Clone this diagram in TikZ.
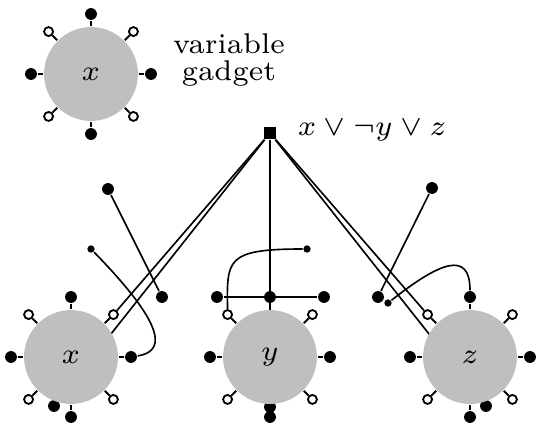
\documentclass[tikz,border=0pt]{standalone}
\usetikzlibrary{backgrounds}
\begin{document}
\begin{tikzpicture}[
  x=0.245pt, y=-0.245pt,
  font=\fontsize{7}{6.6}\selectfont,
  gadget/.style={circle, fill=black!25, minimum size=23pt, inner sep=0pt},
  bead/.style={circle, fill=black, minimum size=2.9pt, inner sep=0pt},
  ring/.style={circle, draw, fill=white, line width=0.45pt, minimum size=2.2pt, inner sep=0pt},
  speck/.style={circle, fill=black, minimum size=1.8pt, inner sep=0pt},
  clause/.style={rectangle, fill=black, minimum size=2.9pt, inner sep=0pt},
  wire/.style={line width=0.5pt}
  ]
  \useasboundingbox (0,0) rectangle (541,433);

  % the clause
  \node[clause] (C) at (270,133) {};
  \node[anchor=base west, inner sep=0pt] (Clab) at (297,135) {$x \vee \neg y \vee z$};

  % hidden ends, behind the gadgets
  \node[bead] (xd) at (54,406) {};
  \node[bead] (yd) at (270,407) {};
  \node[bead] (zd) at (486,406) {};

  % gadgets with their terminals
  \foreach \g/\p/\v in {v/{91,74}/x, gx/{71,357}/x, gy/{270,357}/y, gz/{470,357}/z} {
    \node[gadget] (\g) at (\p) {$\v$};
    \foreach \a/\t in {0/e, 90/s, 180/w, 270/n}
      \node[bead] (\g-\t) at ([shift={(\a:60)}]\g.center) {};
    \foreach \a/\t in {45/se, 135/sw, 225/nw, 315/ne}
      \node[ring] (\g-\t) at ([shift={(\a:60)}]\g.center) {};
    \foreach \t in {e, se, s, sw, w, nw, n, ne}
      \draw[wire] (\g) -- (\g-\t);
  }
  \node[align=center] (vlab) at (229,60) {variable\\gadget};

  % x side
  \node[bead] (xa) at (108,189) {};
  \node[bead] (xb) at (162,297) {};
  \node[speck] (xc) at (91,249) {};
  % y side
  \node[bead] (ya) at (217,297) {};
  \node[bead] (yb) at (324,297) {};
  \node[speck] (yc) at (307,249) {};
  % z side
  \node[bead] (za) at (432,188) {};
  \node[bead] (zb) at (378,297) {};
  \node[speck] (zc) at (388,303) {};

  \begin{scope}[on background layer, wire]
    \draw (C) -- (gx-ne);
    \draw (C) -- (xd);
    \draw (C) -- (yd);
    \draw (C) -- (gz-nw);
    \draw (C) -- (zd);
    \draw (xa) -- (xb);
    \draw (ya) -- (yb);
    \draw (za) -- (zb);
    \draw (xc) .. controls (172,332) and (162,352) .. (gx-e);
    \draw (yc) .. controls (225,249) and (227,260) .. (gy-nw);
    \draw (zc) .. controls (440,262) and (470,250) .. (gz-n);
  \end{scope}
\end{tikzpicture}
\end{document}
